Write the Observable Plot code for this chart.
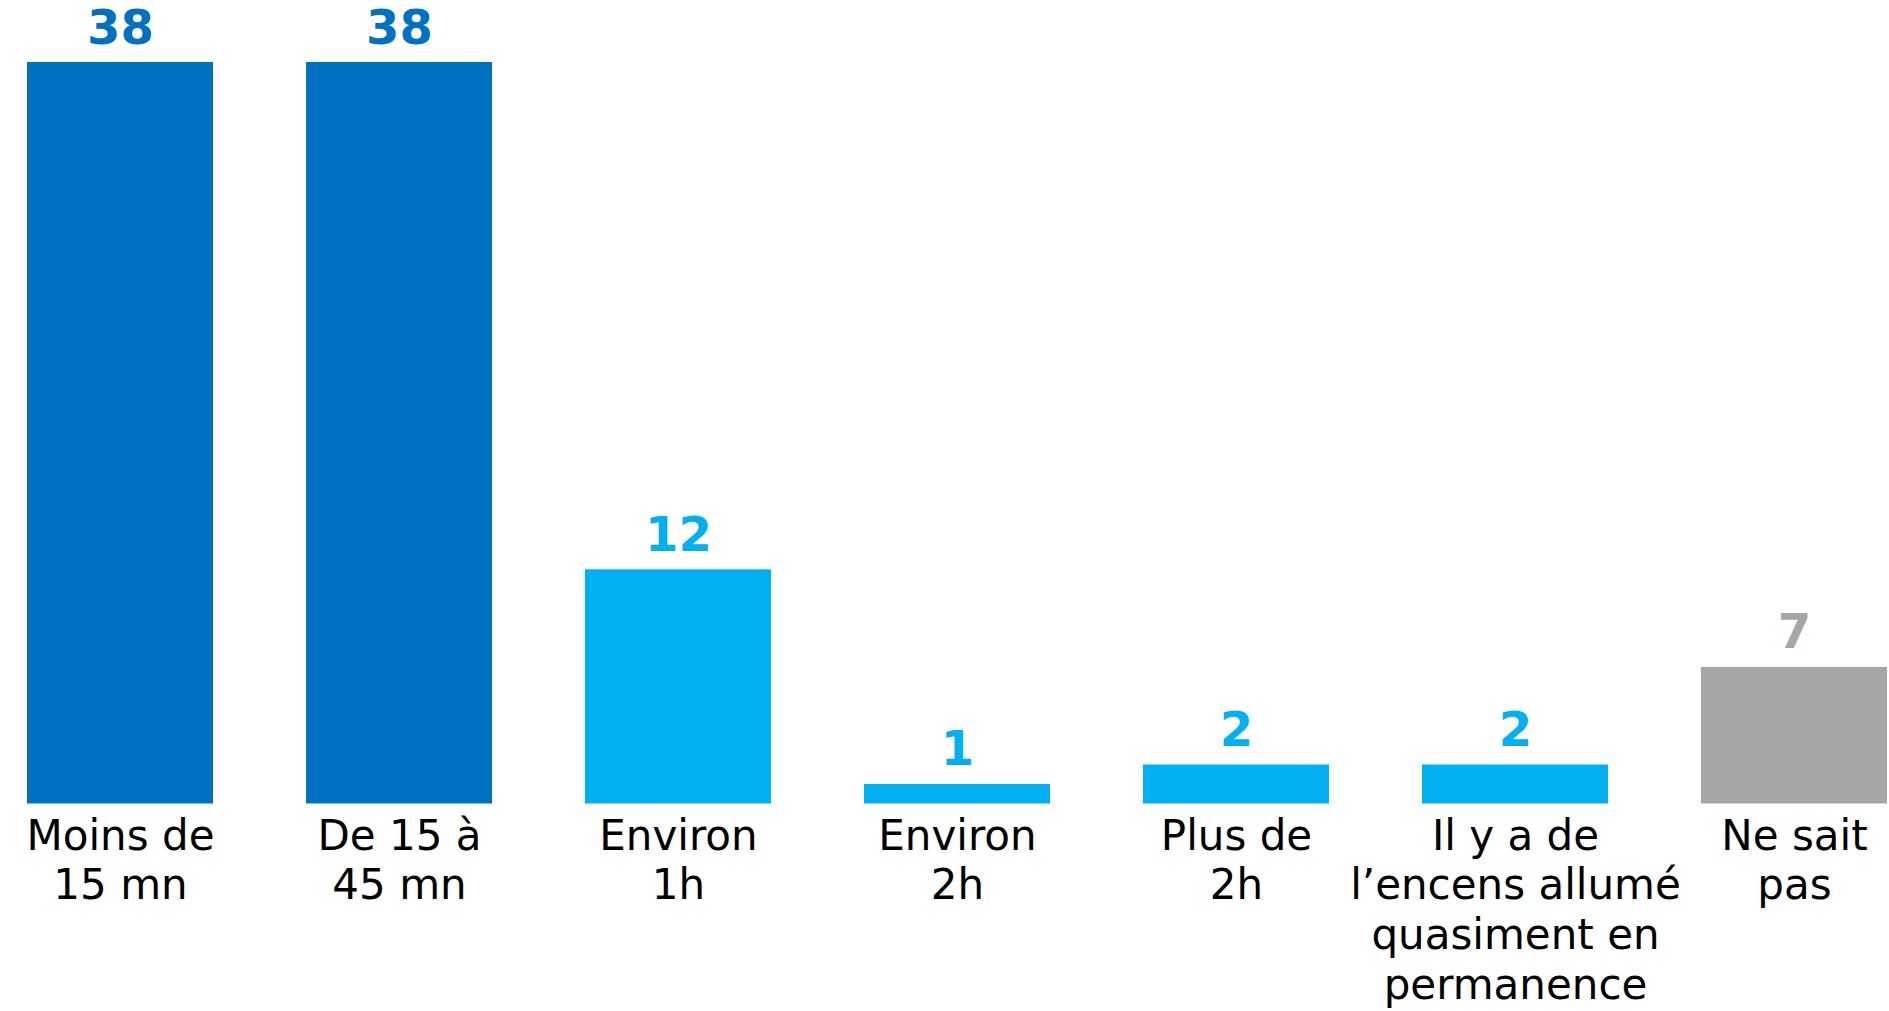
<!DOCTYPE html>
<html>
<head>
<meta charset="utf-8">
<script src="https://cdn.jsdelivr.net/npm/d3@7"></script>
<script src="https://cdn.jsdelivr.net/npm/@observablehq/plot@0.6"></script>
<style>
  html, body { margin: 0; padding: 0; background: #fff; }
  #chart svg { display: block; }
</style>
</head>
<body>
<div id="chart"></div>
<script>
const categories = [
  "Moins de\n15 mn",
  "De 15 à\n45 mn",
  "Environ\n1h",
  "Environ\n2h",
  "Plus de\n2h",
  "Il y a de\nl’encens allumé\nquasiment en\npermanence",
  "Ne sait\npas"
];
const values = [38, 38, 12, 1, 2, 2, 7];
const colors = ["#0070C0", "#0070C0", "#00B0F0", "#00B0F0", "#00B0F0", "#00B0F0", "#A6A6A6"];

const data = categories.map((c, i) => ({category: c, value: values[i]}));

const chart = Plot.plot({
  width: 1889,
  height: 1011,
  marginLeft: 26,
  marginRight: 1,
  marginTop: 62,
  marginBottom: 207.5,
  style: {fontFamily: "'DejaVu Sans', Verdana, sans-serif", background: "#fff"},
  x: {domain: categories, paddingInner: 0.334, paddingOuter: 0, axis: null, label: null},
  y: {domain: [0, 38], axis: null},
  color: {type: "ordinal", domain: categories, range: colors},
  marks: [
    Plot.barY(data, {x: "category", y: "value", fill: "category"}),
    Plot.text(data, {
      x: "category", y: "value", text: d => String(d.value),
      fill: "category", fontSize: 48, fontWeight: "bold",
      lineAnchor: "bottom", dy: -19
    }),
    Plot.axisX({
      tickSize: 0, tickPadding: 10, fontSize: 42, lineHeight: 1.19,
      fill: "#000", textAnchor: "middle", label: null
    })
  ]
});
document.getElementById("chart").appendChild(chart);
</script>
</body>
</html>
